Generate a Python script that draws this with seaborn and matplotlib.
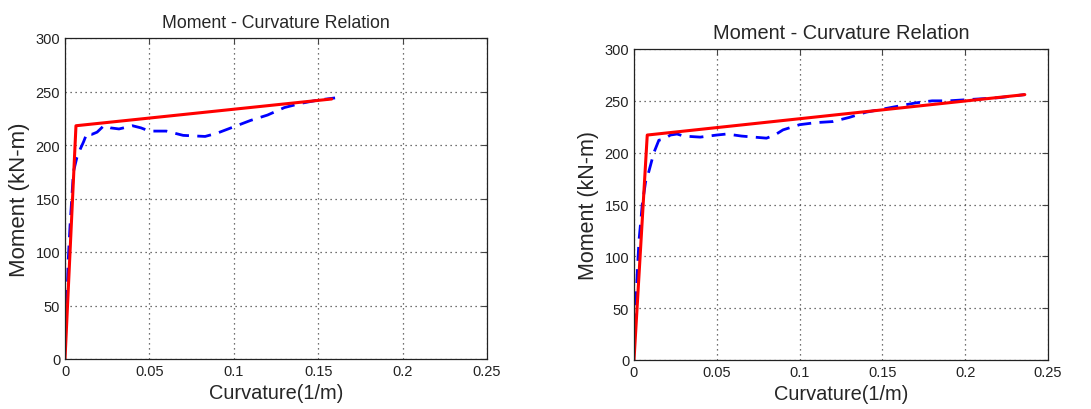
import pandas as pd
import matplotlib.pyplot as plt
import seaborn as sns

# Dati: pannello sinistro
curv_bil_1 = [0, 0.0065, 0.158]
mom_bil_1 = [0, 218, 243]
curv_an_1 = [0, 0.001, 0.002, 0.003, 0.004, 0.005, 0.007, 0.009, 0.011, 0.013, 0.016, 0.019,
             0.023, 0.027, 0.032, 0.04, 0.045, 0.05, 0.06, 0.07, 0.083, 0.09, 0.1, 0.11,
             0.12, 0.13, 0.14, 0.15, 0.16]
mom_an_1 = [10, 50, 95, 125, 150, 175, 188, 196, 203, 211, 210, 212,
            218, 216, 215, 218, 216, 213, 213, 209, 208, 211, 217, 223,
            228, 235, 239, 242, 244]

# Dati: pannello destro
curv_bil_2 = [0, 0.008, 0.236]
mom_bil_2 = [0, 217, 256]
curv_an_2 = [0, 0.001, 0.002, 0.003, 0.005, 0.007, 0.009, 0.012, 0.015, 0.018, 0.022, 0.026,
             0.03, 0.04, 0.05, 0.056, 0.065, 0.08, 0.085, 0.09, 0.1, 0.11, 0.12, 0.13,
             0.14, 0.15, 0.16, 0.17, 0.18, 0.19, 0.2, 0.21, 0.22, 0.236]
mom_an_2 = [10, 50, 85, 115, 150, 172, 182, 200, 212, 213, 217, 218,
            216, 215, 217, 218, 216, 214, 217, 222, 227, 229, 230, 234,
            239, 242, 245, 248, 250, 250, 251, 252, 253, 256]

sns.set_style('white')
plt.rcParams['font.family'] = ['Liberation Sans', 'DejaVu Sans']

fig = plt.figure(figsize=(10.91, 4.10), dpi=100)
ax1 = fig.add_axes([65 / 1091, 1 - 360 / 410, 422 / 1091, 321 / 410])
ax2 = fig.add_axes([634 / 1091, 1 - 361 / 410, 414 / 1091, 311 / 410])

pannelli = [
    (ax1, curv_bil_1, mom_bil_1, curv_an_1, mom_an_1, 12.8, 16),
    (ax2, curv_bil_2, mom_bil_2, curv_an_2, mom_an_2, 14.4, 15.5),
]

for ax, xb, yb, xa, ya, fs_tit, fs_y in pannelli:
    df_b = pd.DataFrame({'x': xb, 'y': yb})
    df_a = pd.DataFrame({'x': xa, 'y': ya})
    sns.lineplot(data=df_a, x='x', y='y', ax=ax, sort=False, color='blue',
                 linewidth=2, linestyle='--')
    ax.lines[-1].set_dashes([5, 3])
    sns.lineplot(data=df_b, x='x', y='y', ax=ax, sort=False, color='red', linewidth=2.2)
    ax.set_xlim(0, 0.25)
    ax.set_ylim(0, 300)
    ax.set_xticks([0, 0.05, 0.1, 0.15, 0.2, 0.25])
    ax.set_xticklabels(['0', '0.05', '0.1', '0.15', '0.2', '0.25'])
    ax.set_yticks(range(0, 301, 50))
    ax.grid(True, color='#444444', linestyle=(0, (1, 3)), linewidth=0.9)
    ax.tick_params(direction='in', top=True, right=True, labelsize=10.5,
                   labelcolor='#222222', length=4, color='#444444')
    for s in ax.spines.values():
        s.set_color('#222222')
        s.set_linewidth(0.9)
    ax.set_xlabel('Curvature(1/m)', fontsize=14.4, labelpad=4)
    ax.set_ylabel('Moment (kN-m)', fontsize=fs_y, labelpad=4)
    ax.set_title('Moment - Curvature Relation', fontsize=fs_tit, pad=8)

fig.savefig('out.png', dpi=100)
